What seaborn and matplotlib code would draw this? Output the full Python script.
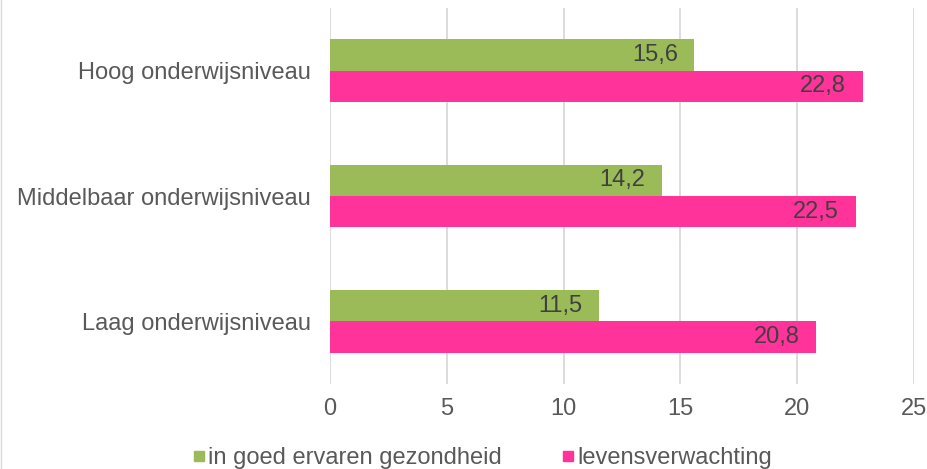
"""Gezonde levensverwachting naar onderwijsniveau."""

import matplotlib.pyplot as plt
import pandas as pd
import seaborn as sns
from matplotlib.lines import Line2D

GREEN = "#9BBB59"
PINK = "#FF3399"
TEXT = "#595959"
GRID = "#D9D9D9"

categories = ["Hoog onderwijsniveau", "Middelbaar onderwijsniveau", "Laag onderwijsniveau"]
series = ["in goed ervaren gezondheid", "levensverwachting"]
gezond = [15.6, 14.2, 11.5]
levens = [22.8, 22.5, 20.8]
x_ticks = [0, 5, 10, 15, 20, 25]


def main():
    sns.set_theme(style="white")
    plt.rcParams["font.family"] = ["Liberation Sans", "DejaVu Sans"]

    data = pd.DataFrame(
        {
            "niveau": categories * 2,
            "reeks": [series[0]] * 3 + [series[1]] * 3,
            "jaren": gezond + levens,
        }
    )

    fig = plt.figure(figsize=(9.28, 4.69), dpi=100)
    ax = fig.add_axes([0.3556, 0.181, 0.6294, 0.802])
    sns.barplot(
        data=data,
        y="niveau",
        x="jaren",
        hue="reeks",
        order=categories,
        hue_order=series,
        palette=[GREEN, PINK],
        orient="h",
        width=0.5,
        saturation=1,
        linewidth=0,
        legend=False,
        ax=ax,
    )

    ax.set_xlim(0, 25)
    ax.set_xticks(x_ticks)
    ax.set_xlabel("")
    ax.set_ylabel("")
    ax.grid(axis="x", color=GRID, linewidth=1.3)
    ax.grid(axis="y", visible=False)
    ax.set_axisbelow(True)
    for side in ["top", "right", "bottom", "left"]:
        ax.spines[side].set_visible(False)
    ax.tick_params(axis="both", length=0, colors=TEXT, labelsize=17)
    ax.tick_params(axis="y", pad=14)
    ax.tick_params(axis="x", pad=10)

    # value labels inside the bar end, Dutch decimal comma
    for container in ax.containers:
        for bar in container:
            value = bar.get_width()
            ax.annotate(
                f"{value:.1f}".replace(".", ","),
                (value, bar.get_y() + bar.get_height() / 2),
                xytext=(-12, 0),
                textcoords="offset points",
                ha="right",
                va="center",
                fontsize=17,
                color="#404040",
            )

    handles = [
        Line2D([], [], marker="s", linestyle="", markersize=7, color=c)
        for c in [GREEN, PINK]
    ]
    fig.legend(
        handles,
        series,
        loc="lower center",
        bbox_to_anchor=(0.518, -0.045),
        ncol=2,
        frameon=False,
        fontsize=17,
        labelcolor=TEXT,
        handletextpad=0.0,
        columnspacing=2.4,
        handlelength=0.8,
    )

    fig.add_artist(Line2D([0.001, 0.001], [0, 1], color=GRID, linewidth=1))
    fig.savefig("out.png", dpi=100, facecolor="white")
    plt.close(fig)


if __name__ == "__main__":
    main()
